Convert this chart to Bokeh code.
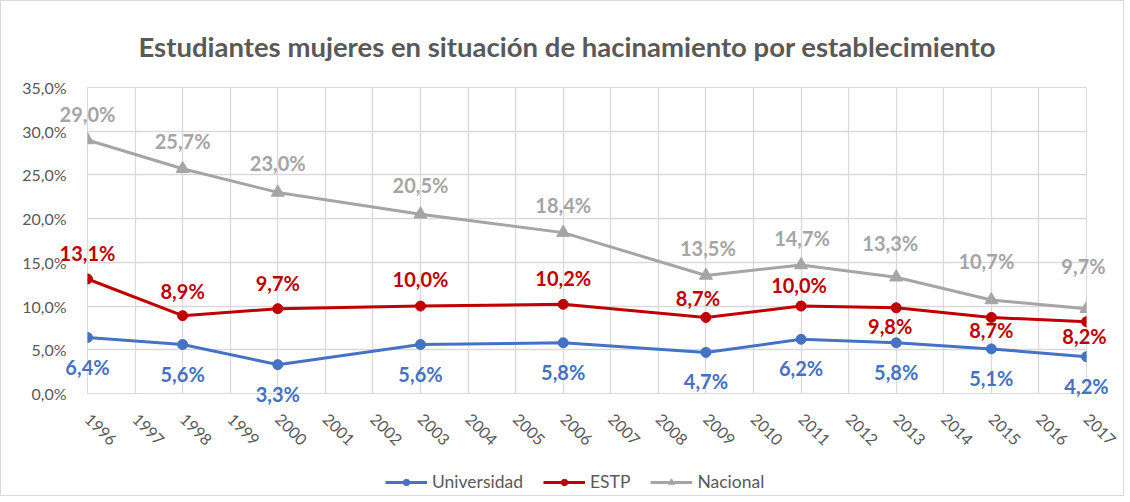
from bokeh.plotting import figure
from bokeh.layouts import column
from bokeh.models import (ColumnDataSource, FixedTicker, CustomJSTickFormatter,
                          Legend, LegendItem)
from bokeh.core.properties import value
from bokeh.embed import file_html
from bokeh.resources import INLINE
import math

# ---- data ----
years = [1996, 1998, 2000, 2003, 2006, 2009, 2011, 2013, 2015, 2017]
universidad = [6.4, 5.6, 3.3, 5.6, 5.8, 4.7, 6.2, 5.8, 5.1, 4.2]
estp = [13.1, 8.9, 9.7, 10.0, 10.2, 8.7, 10.0, 9.8, 8.7, 8.2]
nacional = [29.0, 25.7, 23.0, 20.5, 18.4, 13.5, 14.7, 13.3, 10.7, 9.7]
year_ticks = list(range(1996, 2018))
title_text = "Estudiantes mujeres en situación de hacinamiento por establecimiento"

# ---- label placement (screen px, up = positive; style only) ----
uni_dx = [0] * 10
uni_dy = [-29] * 10
estp_dx = [0, 0, 0, 0, 0, -8, -2, -6, 0, -2]
estp_dy = [26, 25, 26, 27, 26, 19, 21, -18, -13, -14]
nac_dx = [0, 0, 0, 0, 0, 2, 1, -6, -5, -3]
nac_dy = [26, 28, 29, 29, 28, 27, 27, 34, 39, 43]

C_UNI = "#4472C4"
C_ESTP = "#C00000"
C_NAC = "#A5A5A5"
GRID = "#D9D9D9"
TXT = "#595959"
FONT = "Lato"
W = 1122
H_MAIN = 464
H_LEG = 30


def fmt(v):
    return f"{v:.1f}".replace(".", ",") + "%"


p = figure(width=W, height=H_MAIN, output_backend="svg", toolbar_location=None,
           x_range=(1996, 2017), y_range=(0, 35),
           min_border_left=86, min_border_right=37, min_border_top=86,
           min_border_bottom=72)

p.title.text = title_text
p.title.align = "left"
p.title.text_font = FONT
p.title.text_font_size = "27.5px"
p.title.text_font_style = "bold"
p.title.text_color = TXT
p.title.offset = 51
p.title.standoff = 50

p.outline_line_color = GRID
p.xgrid.grid_line_color = GRID
p.ygrid.grid_line_color = GRID
p.xgrid.grid_line_width = 1.3
p.ygrid.grid_line_width = 1.3

p.xaxis.ticker = FixedTicker(ticks=year_ticks)
p.yaxis.ticker = FixedTicker(ticks=[0, 5, 10, 15, 20, 25, 30, 35])
p.yaxis.formatter = CustomJSTickFormatter(
    code="return tick.toFixed(1).replace('.', ',') + '%';")
p.xaxis.major_label_orientation = -math.pi / 4
for ax in (p.xaxis, p.yaxis):
    ax.axis_line_color = None
    ax.major_tick_line_color = None
    ax.minor_tick_line_color = None
    ax.major_label_text_font = FONT
    ax.major_label_text_font_size = "16px"
    ax.major_label_text_color = TXT
p.yaxis.major_label_standoff = 15
p.xaxis.major_label_standoff = 17

# legend strip (its own small figure; series drawn hidden, only for the key)
pl = figure(width=W, height=H_LEG, output_backend="svg", toolbar_location=None,
            x_range=p.x_range, y_range=p.y_range, min_border=0,
            x_axis_location=None, y_axis_location=None)
pl.grid.visible = False
pl.outline_line_color = None

series = [
    ("Universidad", universidad, C_UNI, "circle", 10, uni_dx, uni_dy),
    ("ESTP", estp, C_ESTP, "circle", 10, estp_dx, estp_dy),
    ("Nacional", nacional, C_NAC, "triangle", 13, nac_dx, nac_dy),
]

items = []
for name, vals, col, marker, size, dx, dy in series:
    src = ColumnDataSource(dict(x=years, y=vals, lab=[fmt(v) for v in vals],
                                dx=dx, dy=[-d for d in dy]))
    p.line("x", "y", source=src, line_color=col, line_width=3)
    p.scatter("x", "y", source=src, marker=marker, size=size,
              fill_color=col, line_color=col)
    p.text("x", "y", text="lab", source=src, x_offset="dx", y_offset="dy",
           text_align="center", text_baseline="middle",
           text_font=value(FONT), text_font_style="bold",
           text_font_size="20px", text_color=col, level="overlay")
    kl = pl.line("x", "y", source=src, line_color=col, line_width=3,
                 visible=False)
    ks = pl.scatter("x", "y", source=src, marker=marker, size=size,
                    fill_color=col, line_color=col, visible=False)
    items.append(LegendItem(label=name, renderers=[kl, ks]))

legend = Legend(items=items, orientation="horizontal", location=(298, 3),
                label_text_font=FONT, label_text_font_size="17.5px",
                label_text_color=TXT, glyph_width=42, glyph_height=16,
                label_standoff=5, spacing=20, border_line_color=None,
                background_fill_alpha=0, margin=0, padding=2,
                inactive_fill_alpha=0)
pl.add_layout(legend, "center")

layout = column(p, pl, spacing=0)
layout.styles = {"border": "1px solid #D9D9D9"}
open("out.html", "w").write(file_html(layout, INLINE))
